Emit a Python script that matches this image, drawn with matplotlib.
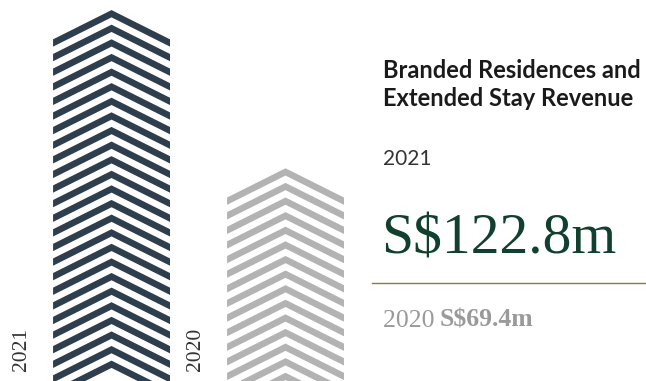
import matplotlib
matplotlib.use("Agg")
import matplotlib.pyplot as plt
from matplotlib.patches import Polygon

# Revenue by year (S$ million)
years = ["2021", "2020"]
revenue = [122.8, 69.4]
bar_colors = ["#2f3e4c", "#b3b3b3"]

title_lines = ["Branded Residences and", "Extended Stay Revenue"]
current_label = "2021"
current_value = "S$122.8m"
prior_year = "2020"
prior_value = "S$69.4m"

W, H = 646, 381
fig = plt.figure(figsize=(W / 100, H / 100), dpi=100)
fig.patch.set_facecolor("white")

# Bar panel on the left
ax = fig.add_axes([0, 0, 360 / W, 1])
ax.set_xlim(-0.641, 1.428)
ax.set_ylim(-2.4, 126.2)
ax.axis("off")

bar_width = 0.672
half = bar_width / 2
period = 4.93       # vertical distance between chevrons (data units)
thick = 2.46        # chevron stripe thickness (data units)
slope = 29.4        # chevron drop per x unit
ymin = ax.get_ylim()[0]

for i, (val, col) in enumerate(zip(revenue, bar_colors)):
    c = i
    top = val
    while top - slope * half + thick > ymin - period:
        pts = [
            (c, top),
            (c + half, top - slope * half),
            (c + half, top - slope * half - thick),
            (c, top - thick),
            (c - half, top - slope * half - thick),
            (c - half, top - slope * half),
        ]
        ax.add_patch(Polygon(pts, closed=True, facecolor=col, edgecolor="none"))
        top -= period
    ax.text(c - 0.517, 1.0, years[i], rotation=90, ha="center", va="bottom",
            fontsize=15.5, family=["Liberation Serif"], color="#333333")

def px(x, y):
    return x / W, 1 - y / H

fig.text(*px(383, 78.5), title_lines[0], fontsize=17, family="Lato",
         weight="bold", color="#1a1a1a", va="baseline", ha="left")
fig.text(*px(383, 106), title_lines[1], fontsize=17, family="Lato",
         weight="bold", color="#1a1a1a", va="baseline", ha="left")
fig.text(*px(383, 165), current_label, fontsize=15, family="Lato",
         color="#333333", va="baseline", ha="left")
fig.text(*px(381, 254), current_value, fontsize=41.5, family="Liberation Serif",
         color="#12402f", va="baseline", ha="left")

fig.add_artist(plt.Line2D([372 / W, 1], [1 - 282.5 / H] * 2,
                          color="#8c7a45", linewidth=1.0))

t1 = fig.text(*px(383, 327), prior_year + " ", fontsize=18.5,
              family="Liberation Serif", color="#9a9a9a",
              va="baseline", ha="left")
fig.canvas.draw()
bb = t1.get_window_extent()
fig.text(bb.x1 / W - 0.002, 1 - 327 / H, prior_value, fontsize=18.5,
         family="Liberation Serif", weight="bold", color="#9a9a9a",
         va="baseline", ha="left")

fig.savefig("out.png", dpi=100, facecolor="white")
